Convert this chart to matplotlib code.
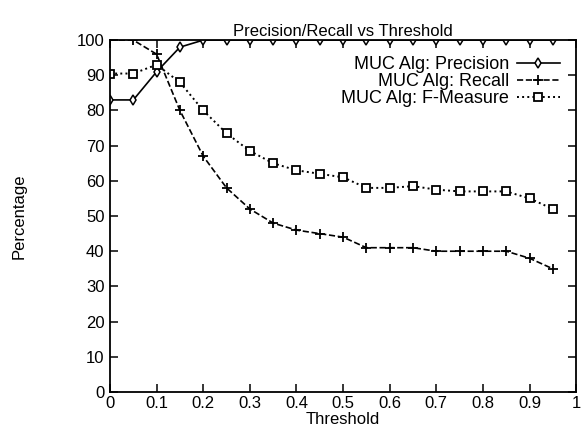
import matplotlib
matplotlib.use("Agg")
import matplotlib.pyplot as plt
import numpy as np

plt.rcParams['font.family'] = ['Liberation Sans', 'DejaVu Sans']

threshold = [0, 0.05, 0.1, 0.15, 0.2, 0.25, 0.3, 0.35, 0.4, 0.45,
             0.5, 0.55, 0.6, 0.65, 0.7, 0.75, 0.8, 0.85, 0.9, 0.95]
precision = [83, 83, 91, 98, 100, 100, 100, 100, 100, 100,
             100, 100, 100, 100, 100, 100, 100, 100, 100, 100]
recall = [100, 100, 96, 80, 67, 58, 52, 48, 46, 45,
          44, 41, 41, 41, 40, 40, 40, 40, 38, 35]
fmeasure = [90.5, 90.5, 93, 88, 80, 73.5, 68.5, 65, 63, 62,
            61, 58, 58, 58.5, 57.5, 57, 57, 57, 55, 52]

fig = plt.figure(figsize=(5.82, 4.36), dpi=100)
ax = fig.add_axes([0.189, 0.101, 0.801, 0.807])

ax.plot(threshold, precision, '-', color='black', lw=1.2, marker='d',
        ms=5, mfc='white', mec='black', mew=1.1, label='MUC Alg: Precision')
ax.plot(threshold, recall, '--', color='black', lw=1.2, marker='+',
        ms=7, mew=1.3, label='MUC Alg: Recall')
ax.plot(threshold, fmeasure, ':', color='black', lw=1.4, marker='s',
        ms=6, mfc='white', mec='black', mew=1.3, label='MUC Alg: F-Measure')

ax.set_xlim(0, 1)
ax.set_ylim(0, 100)
ax.set_xticks(np.arange(0, 1.01, 0.1))
ax.set_xticklabels(['0', '0.1', '0.2', '0.3', '0.4', '0.5', '0.6', '0.7', '0.8', '0.9', '1'])
ax.set_yticks(np.arange(0, 101, 10))
ax.tick_params(direction='in', top=True, right=True, length=6, width=1.1,
               labelsize=12, pad=4)
ax.tick_params(axis='x', pad=3)
for s in ax.spines.values():
    s.set_linewidth(1.3)

ax.set_title('Precision/Recall vs Threshold', fontsize=12, pad=3)
ax.set_xlabel('Threshold', fontsize=12, labelpad=0.5)
ax.set_ylabel('Percentage', fontsize=12, labelpad=36)

ax.legend(loc='upper right', markerfirst=False, frameon=False, fontsize=13,
          handlelength=2.4, labelspacing=0.0, borderaxespad=0.5, handletextpad=0.4)

fig.savefig('out.png', dpi=100)
